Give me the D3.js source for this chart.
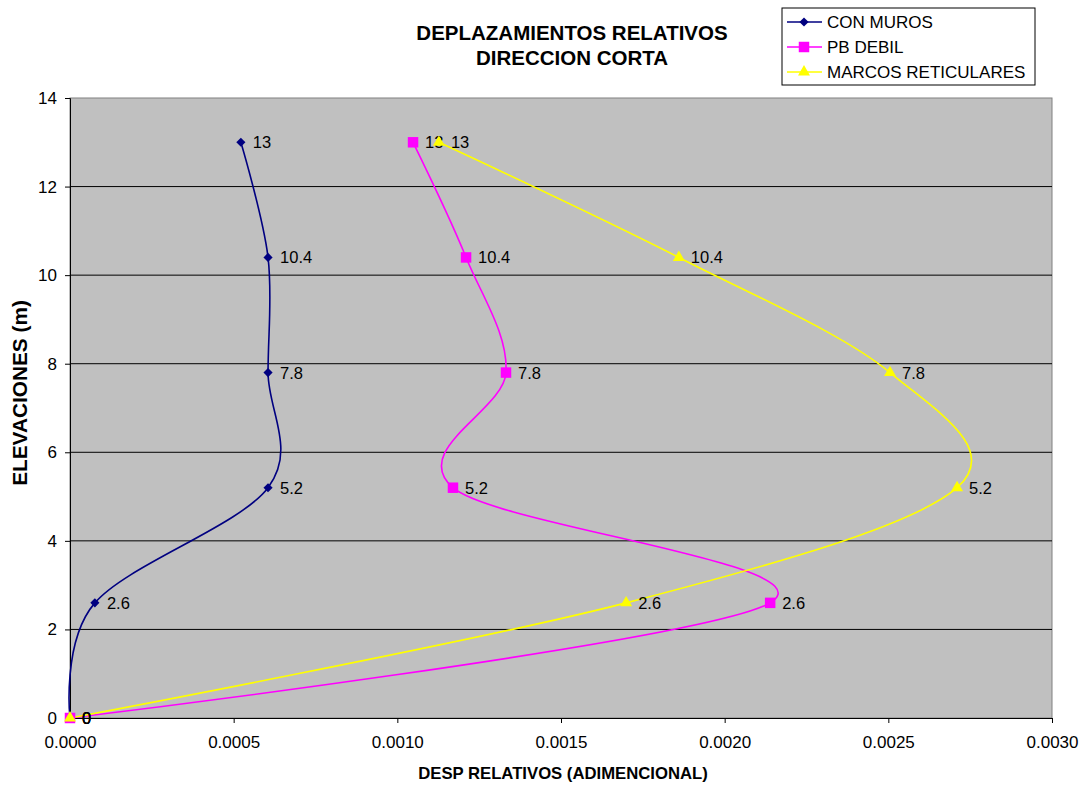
<!DOCTYPE html>
<html>
<head>
<meta charset="utf-8">
<script src="https://cdn.jsdelivr.net/npm/d3@7"></script>
<style>
  body { margin: 0; background: #fff; }
  text { font-family: "Liberation Sans", Arial, sans-serif; }
</style>
</head>
<body>
<div id="chart"></div>
<script>
// elevations (m) and relative displacements per system
const elevations = [0, 2.6, 5.2, 7.8, 10.4, 13]
const conMuros = [0, 0.000076, 0.000605, 0.000605, 0.000605, 0.000522]
const pbDebil = [0, 0.002139, 0.00117, 0.001332, 0.00121, 0.001048]
const marcosReticulares = [0, 0.001699, 0.00271, 0.002505, 0.00186, 0.001127]
const xTicks = [0, 0.0005, 0.001, 0.0015, 0.002, 0.0025, 0.003]
const yTicks = [0, 2, 4, 6, 8, 10, 12, 14]

const diamond = d3.symbolSquare // drawn rotated 45deg below
const series = [
    {name: 'CON MUROS', values: conMuros, color: '#000080', symbol: diamond, size: 42, rotate: 45},
    {name: 'PB DEBIL', values: pbDebil, color: '#FF00FF', symbol: d3.symbolSquare, size: 110, rotate: 0},
    {name: 'MARCOS RETICULARES', values: marcosReticulares, color: '#FFFF00', symbol: d3.symbolTriangle, size: 62, rotate: 0},
]

const width = 1083, height = 785
const margin = {top: 98, right: 31, bottom: 67, left: 70}
const innerW = width - margin.left - margin.right
const innerH = height - margin.top - margin.bottom

const svg = d3.select('#chart').append('svg')
    .attr('width', width)
    .attr('height', height)

const x = d3.scaleLinear().domain([0, 0.003]).range([0, innerW])
const y = d3.scaleLinear().domain([0, 14]).range([innerH, 0])

const g = svg.append('g')
    .attr('transform', `translate(${margin.left}, ${margin.top})`)

// plot area
g.append('rect')
    .attr('width', innerW)
    .attr('height', innerH)
    .attr('fill', '#C0C0C0')
    .attr('stroke', '#808080')

// gridlines
g.selectAll('.grid')
    .data(yTicks.slice(1, -1))
    .join('line')
    .attr('x1', 0).attr('x2', innerW)
    .attr('y1', d => y(d)).attr('y2', d => y(d))
    .attr('stroke', '#000')

// axes
const xAxis = d3.axisBottom(x).tickValues(xTicks).tickFormat(d3.format('.4f')).tickSize(5).tickPadding(13)
const yAxis = d3.axisLeft(y).tickValues(yTicks).tickFormat(d3.format('d')).tickSize(5).tickPadding(8)

const gx = g.append('g').attr('transform', `translate(0, ${innerH})`).call(xAxis)
const gy = g.append('g').call(yAxis)
;[gx, gy].forEach(a => {
    a.select('.domain').attr('stroke', '#000')
    a.selectAll('.tick line').attr('stroke', '#000')
    a.selectAll('text').attr('font-size', 17).attr('fill', '#000')
        .attr('font-family', '"Liberation Sans", Arial, sans-serif')
})
gx.selectAll('text').attr('dy', '0.71em')

// lines
const line = d3.line()
    .x(d => x(d[0]))
    .y(d => y(d[1]))
    .curve(d3.curveCardinal.tension(0))

series.forEach(s => {
    const pts = s.values.map((v, i) => [v, elevations[i]])
    g.append('path')
        .datum(pts)
        .attr('d', line)
        .attr('fill', 'none')
        .attr('stroke', s.color)
        .attr('stroke-width', 1.6)
})

series.forEach(s => {
    const pts = s.values.map((v, i) => [v, elevations[i]])
    g.selectAll(null)
        .data(pts)
        .join('path')
        .attr('transform', d => `translate(${x(d[0])}, ${y(d[1])}) rotate(${s.rotate})`)
        .attr('d', d3.symbol().type(s.symbol).size(s.size))
        .attr('fill', s.color)
    g.selectAll(null)
        .data(pts)
        .join('text')
        .attr('x', d => x(d[0]) + 12)
        .attr('y', d => y(d[1]))
        .attr('dy', '0.36em')
        .attr('font-size', 16.5)
        .text(d => d[1])
})

// title
const title = svg.append('text')
    .attr('text-anchor', 'middle')
    .attr('font-size', 20.5)
    .attr('font-weight', 'bold')
title.append('tspan').attr('x', 572).attr('y', 40).text('DEPLAZAMIENTOS RELATIVOS')
title.append('tspan').attr('x', 572).attr('y', 65).text('DIRECCION CORTA')

// axis titles
svg.append('text')
    .attr('x', 563)
    .attr('y', 779)
    .attr('text-anchor', 'middle')
    .attr('font-size', 16.7)
    .attr('font-weight', 'bold')
    .text('DESP RELATIVOS (ADIMENCIONAL)')

svg.append('text')
    .attr('transform', `translate(27, 393) rotate(-90)`)
    .attr('text-anchor', 'middle')
    .attr('font-size', 20.8)
    .attr('font-weight', 'bold')
    .text('ELEVACIONES (m)')

// legend
const legend = svg.append('g').attr('transform', 'translate(782, 8)')
legend.append('rect')
    .attr('width', 253)
    .attr('height', 77)
    .attr('fill', '#fff')
    .attr('stroke', '#000')
series.forEach((s, i) => {
    const row = legend.append('g').attr('transform', `translate(0, ${14 + i * 25})`)
    row.append('line')
        .attr('x1', 5).attr('x2', 40)
        .attr('stroke', s.color).attr('stroke-width', 1.6)
    row.append('path')
        .attr('transform', `translate(22, 0) rotate(${s.rotate})`)
        .attr('d', d3.symbol().type(s.symbol).size(s.size))
        .attr('fill', s.color)
    row.append('text')
        .attr('x', 45)
        .attr('dy', '0.36em')
        .attr('font-size', 17)
        .text(s.name)
})
</script>
</body>
</html>
